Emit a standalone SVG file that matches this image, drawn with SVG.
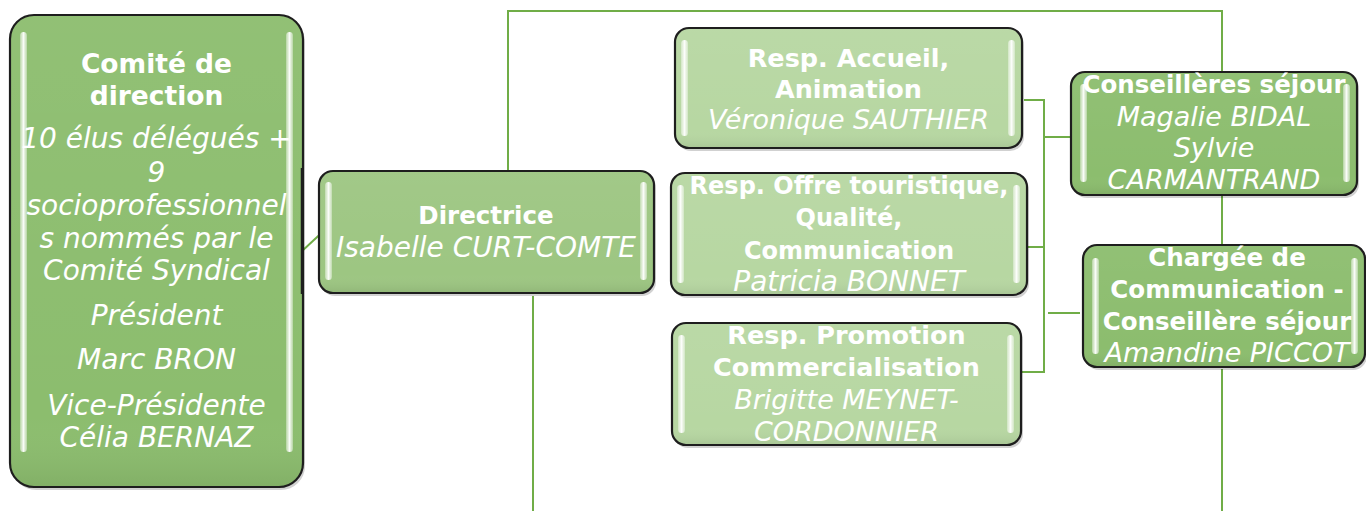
<svg xmlns="http://www.w3.org/2000/svg" width="1366" height="511" viewBox="0 0 1366 511">
<defs>
<linearGradient id="bar" x1="0" y1="0" x2="1" y2="0">
<stop offset="0" stop-color="#ffffff" stop-opacity="0.35"/>
<stop offset="0.5" stop-color="#ffffff" stop-opacity="0.95"/>
<stop offset="1" stop-color="#ffffff" stop-opacity="0.35"/>
</linearGradient>
<linearGradient id="shade" x1="0" y1="0" x2="0" y2="1">
<stop offset="0" stop-color="#ffffff" stop-opacity="0.05"/>
<stop offset="0.85" stop-color="#ffffff" stop-opacity="0"/>
<stop offset="1" stop-color="#000000" stop-opacity="0.07"/>
</linearGradient>
</defs>
<style>
.box{stroke:#1e1e1e;stroke-width:2.2}
.dark{fill:#8cbd6e}
.mid{fill:#9dc682}
.light{fill:#b7d7a2}
.gloss{fill:url(#shade);stroke:none}
.shadow{fill:#000;opacity:0.18}
.bar{fill:url(#bar)}
.conn{fill:none;stroke:#70ad47;stroke-width:2}
text{font-family:"DejaVu Sans","Liberation Sans",sans-serif;fill:#fff;text-anchor:middle}
.b{font-weight:bold}
.i{font-style:italic}
</style>
<rect width="1366" height="511" fill="#fff"/>

<g id="connectors">
<polyline class="conn" points="508,172 508,11 1222,11 1222,73"/>
<line class="conn" x1="533" y1="296" x2="533" y2="511"/>
<line class="conn" x1="301" y1="252" x2="343" y2="213"/>
<polyline class="conn" points="1024,100 1044,100 1044,372 1019,372"/>
<line class="conn" x1="1028" y1="247" x2="1044" y2="247"/>
<line class="conn" x1="1044" y1="137" x2="1071" y2="137"/>
<line class="conn" x1="1048" y1="313" x2="1080" y2="313"/>
<line class="conn" x1="1222" y1="196" x2="1222" y2="246"/>
<line class="conn" x1="1222" y1="369" x2="1222" y2="511"/>
</g>

<g id="comite">
<rect class="shadow" x="12" y="18" width="293" height="472" rx="24"/>
<rect class="box dark" x="10" y="15" width="293" height="472" rx="24"/>
<rect class="gloss" x="11" y="16" width="291" height="470" rx="23"/>
<rect class="bar" x="20" y="32" width="7" height="420" rx="3.5"/>
<rect class="bar" x="286" y="32" width="7" height="420" rx="3.5"/>
<line x1="302" y1="168" x2="302" y2="294" stroke="#1e1e1e" stroke-width="2.5"/>
<text class="b" font-size="26.5" x="156.5" y="73">Comité de</text>
<text class="b" font-size="26.5" x="156.5" y="105">direction</text>
<text class="i" font-size="28" x="156.5" y="148">10 élus délégués +</text>
<text class="i" font-size="28" x="156.5" y="182">9</text>
<text class="i" font-size="28" x="156.5" y="215">socioprofessionnel</text>
<text class="i" font-size="28" x="156.5" y="248">s nommés par le</text>
<text class="i" font-size="28" x="156.5" y="280">Comité Syndical</text>
<text class="i" font-size="28" x="156.5" y="325">Président</text>
<text class="i" font-size="28" x="156.5" y="369">Marc BRON</text>
<text class="i" font-size="28" x="156.5" y="415">Vice-Présidente</text>
<text class="i" font-size="28" x="156.5" y="447">Célia BERNAZ</text>
</g>

<g id="directrice">
<rect class="shadow" x="321" y="174" width="335" height="122" rx="14"/>
<rect class="box mid" x="319" y="171" width="335" height="122" rx="14"/>
<rect class="gloss" x="320" y="172" width="333" height="120" rx="13"/>
<rect class="bar" x="325" y="182" width="7" height="98" rx="3.5"/>
<rect class="bar" x="640" y="182" width="7" height="98" rx="3.5"/>
<text class="b" font-size="24.5" x="486" y="224">Directrice</text>
<text class="i" font-size="28" x="486" y="257">Isabelle CURT-COMTE</text>
</g>

<g id="accueil">
<rect class="shadow" x="677" y="31" width="347" height="120" rx="14"/>
<rect class="box light" x="675" y="28" width="347" height="120" rx="14"/>
<rect class="gloss" x="676" y="29" width="345" height="118" rx="13"/>
<rect class="bar" x="681" y="40" width="7" height="96" rx="3.5"/>
<rect class="bar" x="1008" y="40" width="7" height="96" rx="3.5"/>
<text class="b" font-size="25.5" x="848.5" y="67">Resp. Accueil,</text>
<text class="b" font-size="25.5" x="848.5" y="98">Animation</text>
<text class="i" font-size="27" x="848.5" y="129">Véronique SAUTHIER</text>
</g>

<g id="offre">
<rect class="shadow" x="673" y="176" width="356" height="122" rx="14"/>
<rect class="box light" x="671" y="173" width="356" height="122" rx="14"/>
<rect class="gloss" x="672" y="174" width="354" height="120" rx="13"/>
<rect class="bar" x="677" y="185" width="7" height="98" rx="3.5"/>
<rect class="bar" x="1013" y="185" width="7" height="98" rx="3.5"/>
<text class="b" font-size="24" x="849" y="194">Resp. Offre touristique,</text>
<text class="b" font-size="24" x="849" y="226">Qualité,</text>
<text class="b" font-size="24" x="849" y="259">Communication</text>
<text class="i" font-size="28" x="849" y="291">Patricia BONNET</text>
</g>

<g id="promotion">
<rect class="shadow" x="674" y="326" width="349" height="122" rx="14"/>
<rect class="box light" x="672" y="323" width="349" height="122" rx="14"/>
<rect class="gloss" x="673" y="324" width="347" height="120" rx="13"/>
<rect class="bar" x="678" y="335" width="7" height="98" rx="3.5"/>
<rect class="bar" x="1007" y="335" width="7" height="98" rx="3.5"/>
<text class="b" font-size="25.5" x="846.5" y="344">Resp. Promotion</text>
<text class="b" font-size="25.5" x="846.5" y="376">Commercialisation</text>
<text class="i" font-size="27" x="846.5" y="409">Brigitte MEYNET-</text>
<text class="i" font-size="27" x="846.5" y="441">CORDONNIER</text>
</g>

<g id="conseilleres">
<rect class="shadow" x="1073" y="75" width="286" height="123" rx="14"/>
<rect class="box dark" x="1071" y="72" width="286" height="123" rx="14"/>
<rect class="gloss" x="1072" y="73" width="284" height="121" rx="13"/>
<rect class="bar" x="1080" y="84" width="7" height="98" rx="3.5"/>
<rect class="bar" x="1343" y="84" width="7" height="98" rx="3.5"/>
<text class="b" font-size="24.5" x="1214" y="93">Conseillères séjour</text>
<text class="i" font-size="27" x="1214" y="126">Magalie BIDAL</text>
<text class="i" font-size="27" x="1214" y="157">Sylvie</text>
<text class="i" font-size="27" x="1214" y="189">CARMANTRAND</text>
</g>

<g id="chargee">
<rect class="shadow" x="1085" y="248" width="282" height="122" rx="14"/>
<rect class="box dark" x="1083" y="245" width="282" height="122" rx="14"/>
<rect class="gloss" x="1084" y="246" width="280" height="120" rx="13"/>
<rect class="bar" x="1092" y="258" width="7" height="96" rx="3.5"/>
<rect class="bar" x="1351" y="258" width="7" height="96" rx="3.5"/>
<text class="b" font-size="24.5" x="1227" y="266">Chargée de</text>
<text class="b" font-size="24.5" x="1227" y="298">Communication -</text>
<text class="b" font-size="24.5" x="1227" y="330">Conseillère séjour</text>
<text class="i" font-size="27" x="1227" y="362">Amandine PICCOT</text>
</g>
</svg>
